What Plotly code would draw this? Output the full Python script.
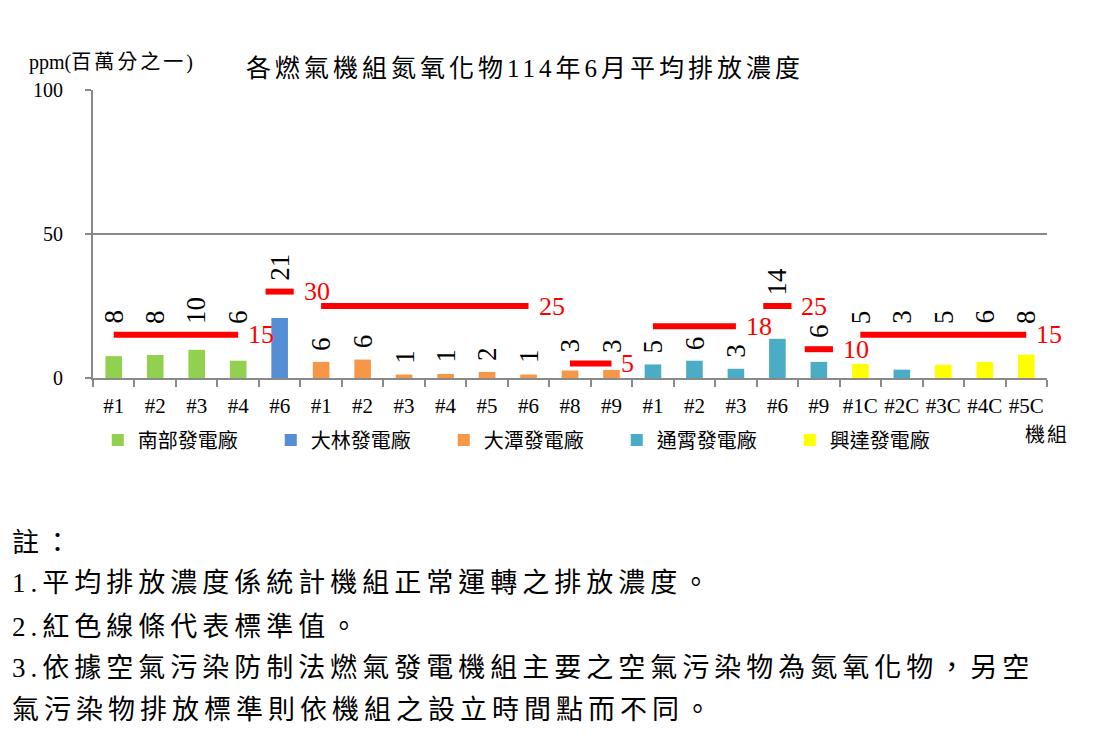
import plotly.graph_objects as go

# 機組 (x axis categories)
units = ['#1', '#2', '#3', '#4', '#6', '#1', '#2', '#3', '#4', '#5', '#6', '#8', '#9',
         '#1', '#2', '#3', '#6', '#9', '#1C', '#2C', '#3C', '#4C', '#5C']
# which plant series each bar belongs to (index into plants)
unit_plant = [0, 0, 0, 0, 1, 2, 2, 2, 2, 2, 2, 2, 2, 3, 3, 3, 3, 3, 4, 3, 4, 4, 4]
plants = ['南部發電廠', '大林發電廠', '大潭發電廠', '通霄發電廠', '興達發電廠']
plant_colors = ['#92D050', '#558ED5', '#F79646', '#4BACC6', '#FFFF00']

# monthly average NOx, ppm
nox = [7.6, 8.0, 9.8, 6.0, 20.8, 5.6, 6.4, 1.2, 1.4, 2.1, 1.2, 2.6, 2.8,
       4.7, 6.0, 3.2, 13.6, 5.6, 4.9, 2.9, 4.6, 5.6, 8.1]

# emission standards (red lines): value, first unit index, last unit index
std_value = [15, 30, 25, 5, 18, 25, 10, 15]
std_first = [0, 4, 5, 11, 13, 16, 17, 18]
std_last = [3, 4, 10, 12, 15, 16, 17, 22]

notes = ['註：',
         '1.平均排放濃度係統計機組正常運轉之排放濃度。',
         '2.紅色線條代表標準值。',
         '3.依據空氣污染防制法燃氣發電機組主要之空氣污染物為氮氧化物，另空',
         '氣污染物排放標準則依機組之設立時間點而不同。']

FONT = 'Liberation Serif, Noto Sans CJK TC, serif'
NUM_FONT = 'Liberation Serif, serif'
GRAY = '#898989'

fig = go.Figure()

for p, name in enumerate(plants):
    xs = [i for i in range(len(units)) if unit_plant[i] == p]
    fig.add_trace(go.Bar(x=xs, y=[nox[i] for i in xs], name=name, width=0.4,
                         marker=dict(color=plant_colors[p], line=dict(width=0))))

# red standard lines
lx, ly, ends = [], [], []
for s, a, b in zip(std_value, std_first, std_last):
    x0, x1 = (a - 0.34, b + 0.34) if a == b else (a, b)
    lx += [x0, x1, None]
    ly += [s, s, None]
    ends.append(x1)
fig.add_trace(go.Scatter(x=lx, y=ly, mode='lines', line=dict(color='#FF0000', width=6),
                         showlegend=False, hoverinfo='skip'))

annotations = []
for s, x1 in zip(std_value, ends):
    annotations.append(dict(x=x1, y=s, text=str(s), showarrow=False, xanchor='left',
                            yanchor='middle', xshift=8,
                            font=dict(family=NUM_FONT, size=26, color='#FF0000')))

# value labels: lifted above the red line when a label of the segment would hit it
for s, a, b in zip(std_value, std_first, std_last):
    idx = range(a, b + 1)
    clash = any(nox[i] + 4 + 4 * len(f'{nox[i]:.0f}') > s for i in idx)
    for i in idx:
        annotations.append(dict(x=i, y=s if clash else nox[i], text=f'{nox[i]:.0f}',
                                textangle=-90, showarrow=False, xanchor='center',
                                yanchor='bottom', yshift=9,
                                font=dict(family=NUM_FONT, size=27, color='black')))

annotations.append(dict(xref='paper', yref='paper', x=0.4528, y=1.076,
                        xanchor='center', yanchor='middle',
                        text='<span style="letter-spacing:4px">各燃氣機組氮氧化物114年6月平均排放濃度</span>',
                        showarrow=False, font=dict(family=FONT, size=25, color='black')))
annotations.append(dict(xref='paper', yref='paper', x=-0.069, y=1.097,
                        xanchor='left', yanchor='middle',
                        text='ppm(<span style="letter-spacing:3px">百萬分之一</span>)',
                        showarrow=False, font=dict(family=FONT, size=20, color='black')))
annotations.append(dict(xref='paper', yref='paper', x=1.0, y=-0.198,
                        xanchor='center', yanchor='middle',
                        text='<span style="letter-spacing:2px">機組</span>', showarrow=False,
                        font=dict(family=FONT, size=20, color='black')))

note_y = [-0.573, -0.712, -0.865, -1.007, -1.153]
for t, y in zip(notes, note_y):
    annotations.append(dict(xref='paper', yref='paper', x=-0.087, y=y,
                            xanchor='left', yanchor='middle',
                            text=f'<span style="letter-spacing:5px">{t}</span>',
                            showarrow=False, font=dict(family=FONT, size=27, color='black')))

# the page body adds an 8px offset, so the figure is 8px smaller on each side
fig.update_layout(
    width=1091, height=741,
    margin=dict(l=85, r=52, t=82, b=371),
    paper_bgcolor='white', plot_bgcolor='white',
    barmode='overlay',
    font=dict(family=FONT, color='black'),
    annotations=annotations,
    legend=dict(orientation='h', x=0.005, y=-0.215, yanchor='middle', xanchor='left',
                font=dict(family=FONT, size=20), itemwidth=30,
                entrywidth=128, entrywidthmode='pixels', traceorder='normal'),
    xaxis=dict(range=[-0.5, len(units) - 0.5], tickmode='array',
               tickvals=list(range(len(units))), ticktext=units, ticks='',
               tickfont=dict(family=NUM_FONT, size=21), ticklabelstandoff=8,
               showline=True, linecolor=GRAY, linewidth=2, showgrid=False, zeroline=False,
               minor=dict(tickmode='array', tickvals=[i - 0.5 for i in range(len(units) + 1)],
                          ticks='outside', ticklen=7, tickwidth=2, tickcolor=GRAY)),
    yaxis=dict(range=[0, 100], tickvals=[0, 50, 100], ticks='outside', ticklen=6,
               tickwidth=2, tickcolor=GRAY, tickfont=dict(family=NUM_FONT, size=20),
               ticklabelstandoff=18, showline=True, linecolor=GRAY, linewidth=2,
               showgrid=True, gridcolor=GRAY, gridwidth=2, zeroline=False),
)

fig.write_html('out.html')
